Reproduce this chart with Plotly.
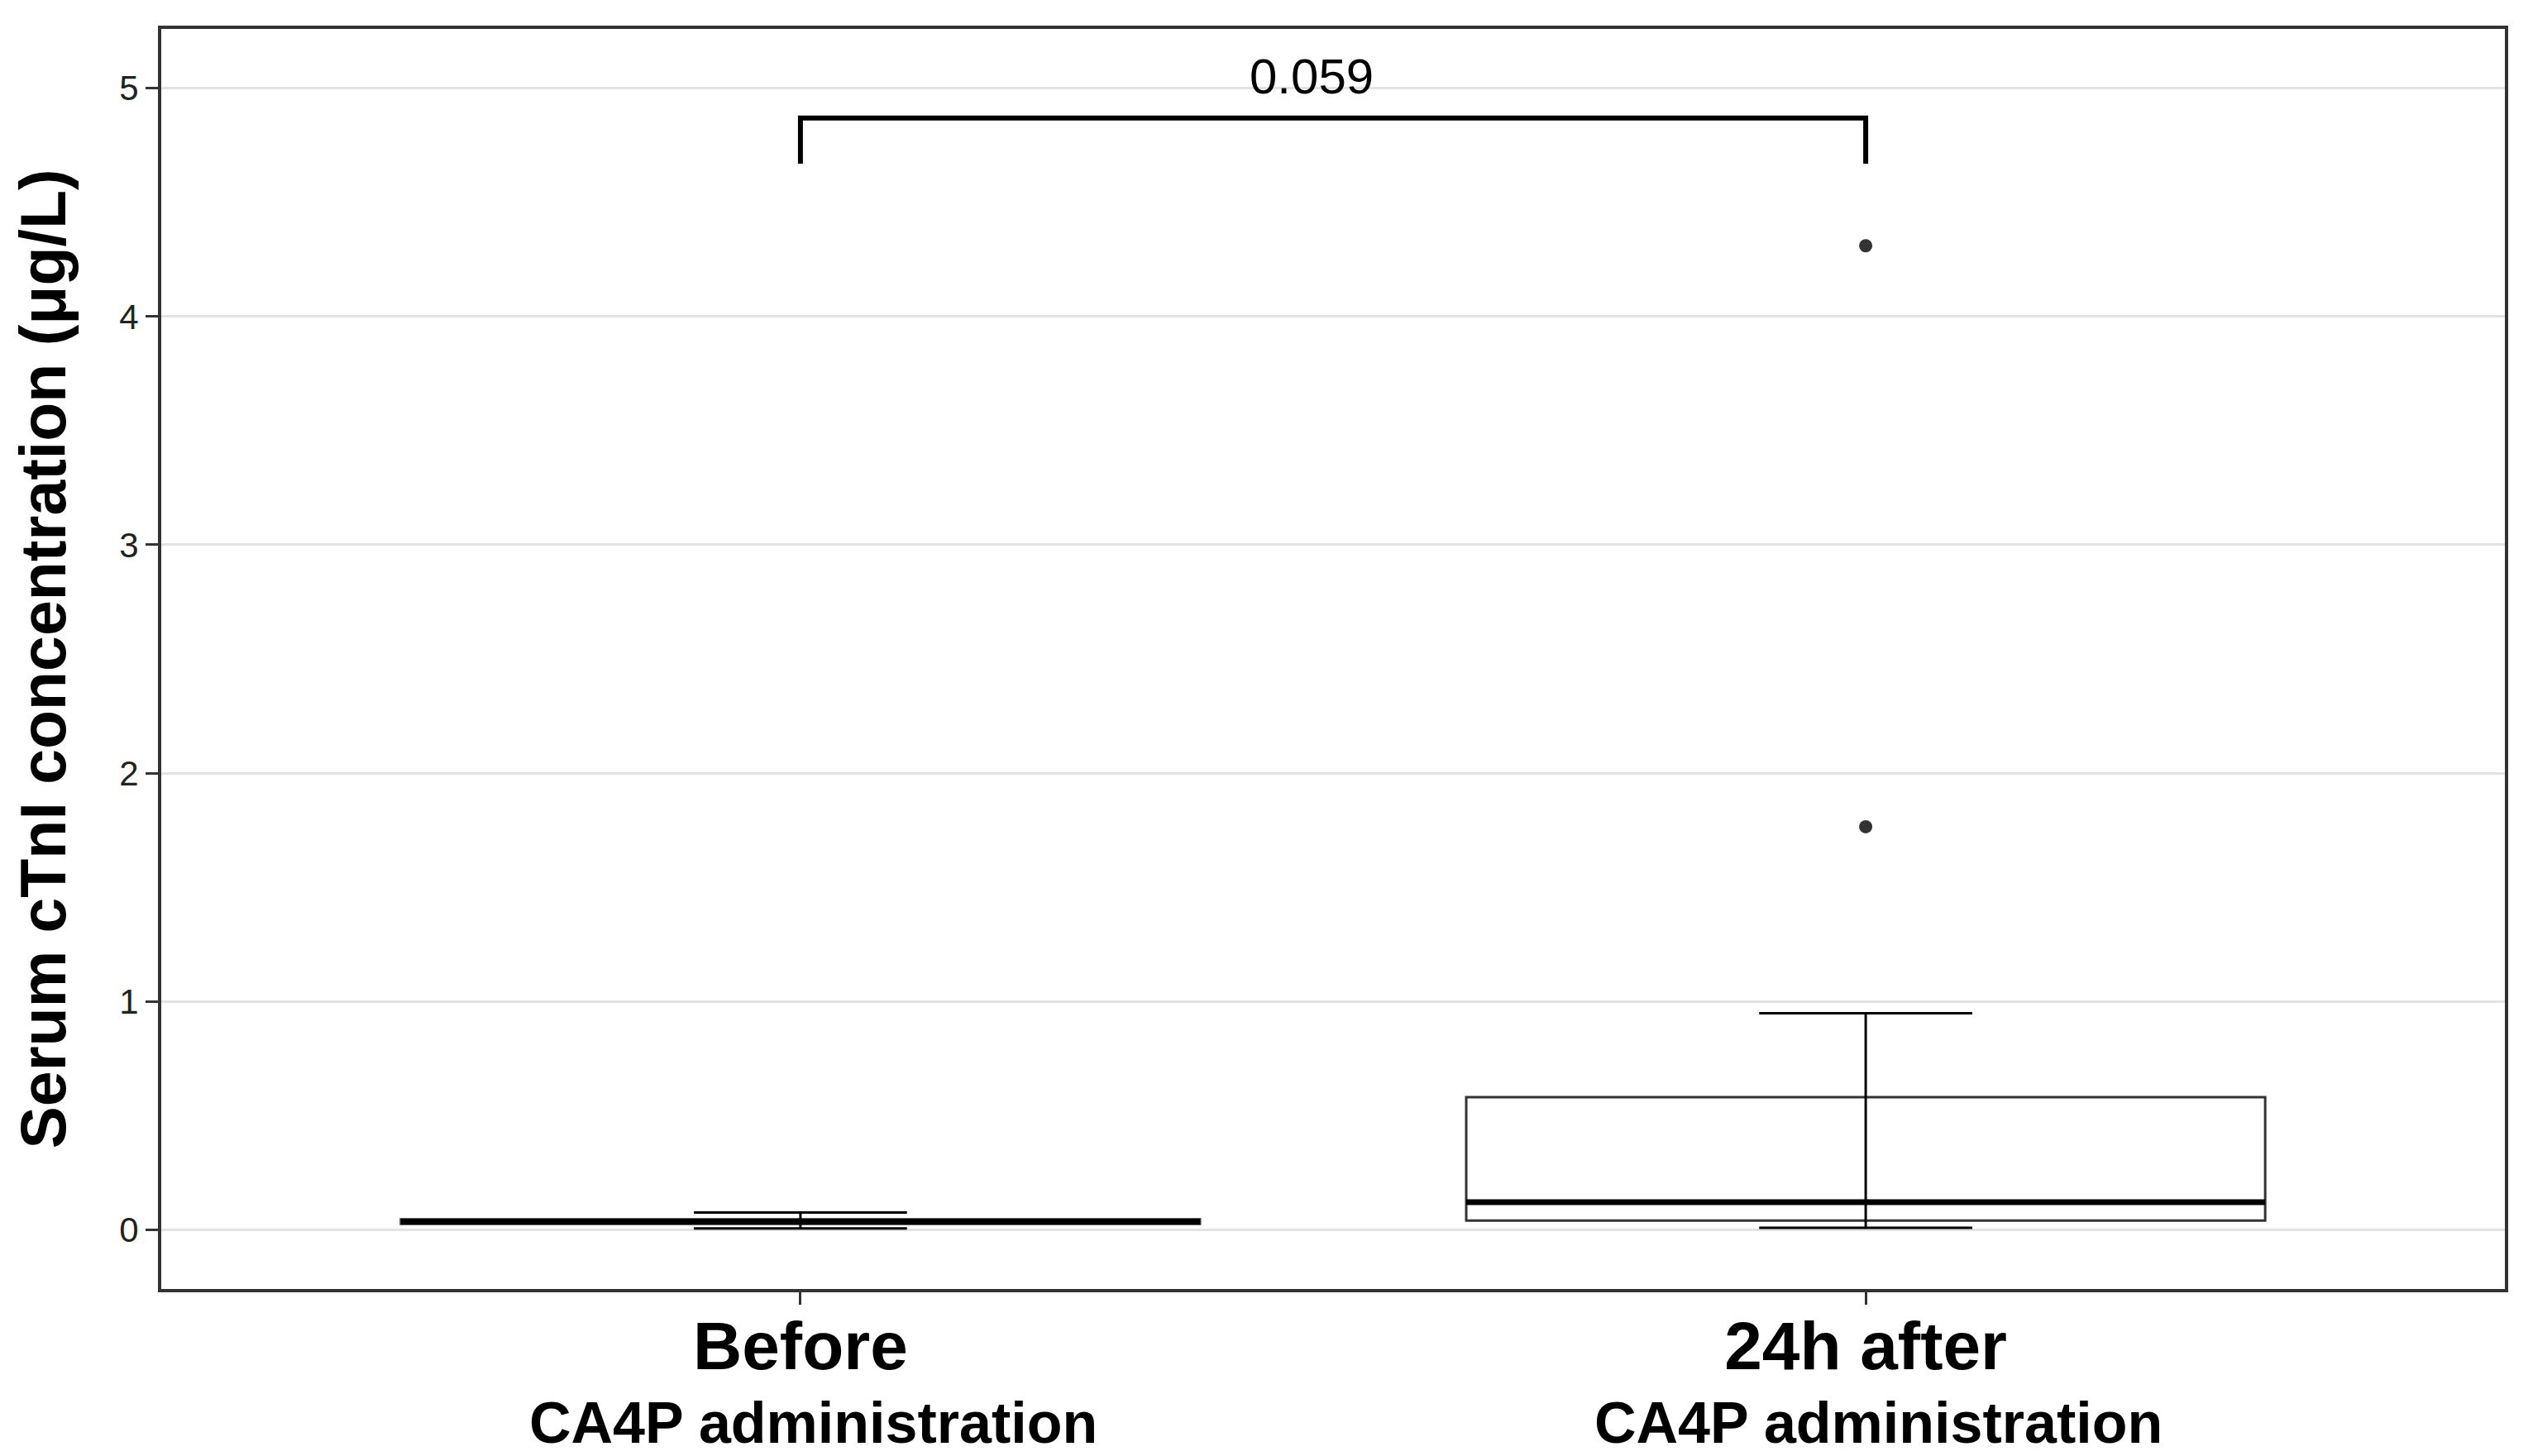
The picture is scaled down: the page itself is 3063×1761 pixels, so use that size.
import plotly.graph_objects as go

# ---- data ----
categories = ["Before", "24h after"]
subtitles = ["CA4P administration", "CA4P administration"]
x_pos = [1, 2]
q1 = [0.025, 0.040]
median = [0.035, 0.120]
q3 = [0.045, 0.580]
lower_whisker = [0.005, 0.008]
upper_whisker = [0.075, 0.948]
outlier_x = [2, 2]
outlier_y = [4.31, 1.765]
p_value_text = "0.059"
bracket_top = 4.87
bracket_tip = 4.67
p_label_y = 5.05
y_ticks = [0, 1, 2, 3, 4, 5]

FONT = "Arial, Liberation Sans, sans-serif"
DARK = "#333333"
BOX_W = 0.75
CAP_W = 0.2

fig = go.Figure()

# error-bar style whiskers (vertical line + caps), drawn under the box
for c, lo, hi in zip(x_pos, lower_whisker, upper_whisker):
    fig.add_trace(go.Scatter(
        x=[c, c, None, c - CAP_W / 2, c + CAP_W / 2, None, c - CAP_W / 2, c + CAP_W / 2],
        y=[lo, hi, None, hi, hi, None, lo, lo],
        mode="lines", line=dict(color="black", width=3),
        hoverinfo="skip", showlegend=False))

# boxes
fig.add_trace(go.Box(
    x=x_pos, q1=q1, median=median, q3=q3,
    lowerfence=q1, upperfence=q3,
    width=BOX_W, whiskerwidth=0,
    line=dict(color=DARK, width=3),
    fillcolor="rgba(0,0,0,0)",
    boxpoints=False, showlegend=False, hoverinfo="skip"))

# thicker median lines
for c, m in zip(x_pos, median):
    fig.add_trace(go.Scatter(
        x=[c - BOX_W / 2, c + BOX_W / 2], y=[m, m],
        mode="lines", line=dict(color="black", width=7),
        hoverinfo="skip", showlegend=False))

# outliers
fig.add_trace(go.Scatter(
    x=outlier_x, y=outlier_y, mode="markers",
    marker=dict(color=DARK, size=16),
    hoverinfo="skip", showlegend=False))

# significance bracket
fig.add_trace(go.Scatter(
    x=[x_pos[0], x_pos[0], x_pos[1], x_pos[1]],
    y=[bracket_tip, bracket_top, bracket_top, bracket_tip],
    mode="lines", line=dict(color="black", width=6),
    hoverinfo="skip", showlegend=False))

fig.add_annotation(x=1.48, y=p_label_y, xref="x", yref="y",
                   text=p_value_text, showarrow=False,
                   font=dict(family=FONT, size=60, color="black"))

# second line of category labels
for c, s in zip(x_pos, subtitles):
    fig.add_annotation(x=c + 0.012, y=-0.106, xref="x", yref="paper",
                       text="<b>" + s + "</b>", showarrow=False,
                       font=dict(family=FONT, size=70, color="black"),
                       yanchor="middle")

fig.update_layout(
    width=3063, height=1761,
    margin=dict(l=187, r=42, t=27, b=210),
    paper_bgcolor="white", plot_bgcolor="white",
    font=dict(family=FONT, color="black"),
    xaxis=dict(
        range=[0.4, 2.6], tickvals=x_pos,
        ticktext=["<b>" + c + "</b>" for c in categories],
        tickfont=dict(family=FONT, size=82, color="black"),
        ticklabelstandoff=-20,
        showgrid=False, zeroline=False,
        ticks="outside", ticklen=15, tickwidth=3, tickcolor=DARK,
        showline=True, mirror=True, linecolor=DARK, linewidth=4,
    ),
    yaxis=dict(
        range=[-0.26, 5.26], tickvals=y_ticks,
        tickfont=dict(family=FONT, size=42, color="#222222"),
        showgrid=True, gridcolor="#e3e3e3", gridwidth=3,
        zeroline=False,
        ticks="outside", ticklen=15, tickwidth=3, tickcolor=DARK,
        showline=True, mirror=True, linecolor=DARK, linewidth=4,
        title=dict(text="<b>Serum cTnI concentration (μg/L)</b>",
                   font=dict(family=FONT, size=77, color="black"),
                   standoff=40),
    ),
)

fig.write_html("out.html")
